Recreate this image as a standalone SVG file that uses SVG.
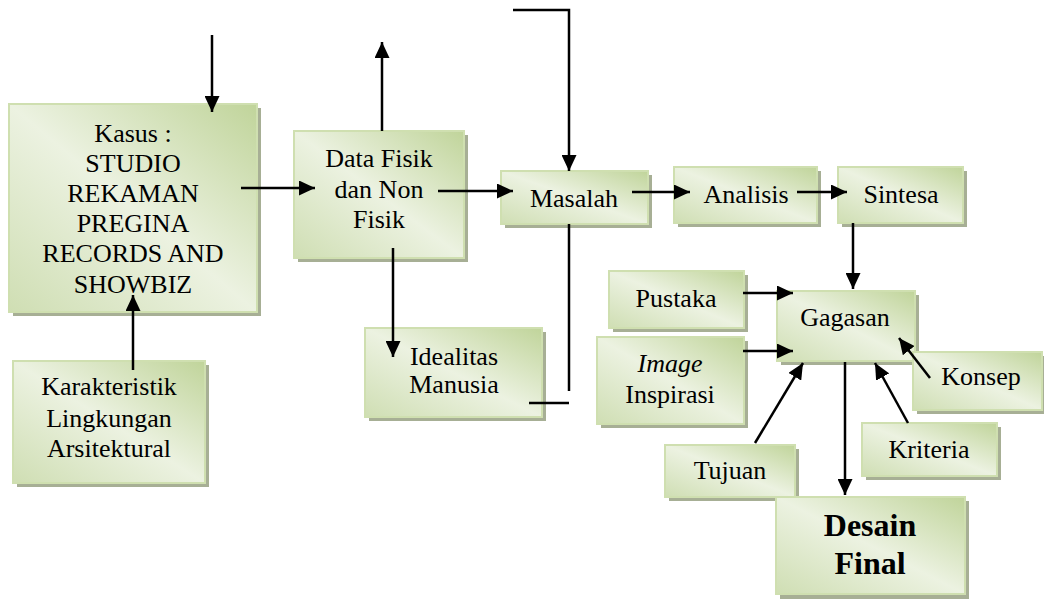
<svg xmlns="http://www.w3.org/2000/svg" width="1044" height="599" viewBox="0 0 1044 599">
<style>
.sh{fill:#a7af95}
.bx{fill:url(#g);stroke:#cfdfb0;stroke-width:2}
.t{font-family:"Liberation Serif","Times New Roman",serif;font-size:26px;fill:#000;text-anchor:middle}
.b{font-weight:bold;font-size:32px}
.c{stroke:#000;stroke-width:2.5;fill:none}
.a{marker-end:url(#ah)}
</style>
<defs>
<linearGradient id="g" x1="1" y1="0" x2="0" y2="1">
<stop offset="0" stop-color="#c0d49a"/>
<stop offset="0.5" stop-color="#ecf2e1"/>
<stop offset="1" stop-color="#cfdeb3"/>
</linearGradient>
<marker id="ah" markerUnits="userSpaceOnUse" markerWidth="17" markerHeight="15" refX="16" refY="7.5" orient="auto">
<path d="M0,0 L16,7.5 L0,15 z" fill="#000"/>
</marker>
</defs>

<g id="kasus">
<rect class="sh" x="13" y="108" width="248" height="208"/>
<rect class="bx" x="9" y="104" width="248" height="208"/>
<text class="t" x="133" y="142">Kasus :</text>
<text class="t" x="133" y="172">STUDIO</text>
<text class="t" x="133" y="202">REKAMAN</text>
<text class="t" x="133" y="232">PREGINA</text>
<text class="t" x="133" y="262">RECORDS AND</text>
<text class="t" x="133" y="293">SHOWBIZ</text>
</g>

<g id="karakteristik">
<rect class="sh" x="17" y="365" width="192" height="122"/>
<rect class="bx" x="13" y="361" width="192" height="122"/>
<text class="t" x="109" y="395">Karakteristik</text>
<text class="t" x="109" y="427">Lingkungan</text>
<text class="t" x="109" y="457">Arsitektural</text>
</g>

<g id="data">
<rect class="sh" x="298" y="135" width="170" height="127"/>
<rect class="bx" x="294" y="131" width="170" height="127"/>
<text class="t" x="379" y="167">Data Fisik</text>
<text class="t" x="379" y="198">dan Non</text>
<text class="t" x="379" y="228">Fisik</text>
</g>

<g id="idealitas">
<rect class="sh" x="369" y="332" width="177" height="89"/>
<rect class="bx" x="365" y="328" width="177" height="89"/>
<text class="t" x="454" y="365">Idealitas</text>
<text class="t" x="454" y="393">Manusia</text>
</g>

<g id="masalah">
<rect class="sh" x="505" y="175" width="147" height="53"/>
<rect class="bx" x="501" y="171" width="147" height="53"/>
<text class="t" x="574" y="207">Masalah</text>
</g>

<g id="analisis">
<rect class="sh" x="678" y="171" width="143" height="56"/>
<rect class="bx" x="674" y="167" width="143" height="56"/>
<text class="t" x="746" y="203">Analisis</text>
</g>

<g id="sintesa">
<rect class="sh" x="842" y="171" width="125" height="56"/>
<rect class="bx" x="838" y="167" width="125" height="56"/>
<text class="t" x="901" y="203">Sintesa</text>
</g>

<g id="pustaka">
<rect class="sh" x="613" y="275" width="135" height="57"/>
<rect class="bx" x="609" y="271" width="135" height="57"/>
<text class="t" x="676" y="307">Pustaka</text>
</g>

<g id="gagasan">
<rect class="sh" x="781" y="295" width="138" height="70"/>
<rect class="bx" x="777" y="291" width="138" height="70"/>
<text class="t" x="845" y="326">Gagasan</text>
</g>

<g id="image">
<rect class="sh" x="601" y="341" width="147" height="87"/>
<rect class="bx" x="597" y="337" width="147" height="87"/>
<text class="t" x="670" y="372" font-style="italic">Image</text>
<text class="t" x="670" y="403">Inspirasi</text>
</g>

<g id="konsep">
<rect class="sh" x="917" y="356" width="127" height="58"/>
<rect class="bx" x="913" y="352" width="129" height="58"/>
<text class="t" x="981" y="385">Konsep</text>
</g>

<g id="kriteria">
<rect class="sh" x="866" y="427" width="135" height="53"/>
<rect class="bx" x="862" y="423" width="135" height="53"/>
<text class="t" x="929" y="458">Kriteria</text>
</g>

<g id="tujuan">
<rect class="sh" x="669" y="449" width="130" height="52"/>
<rect class="bx" x="665" y="445" width="130" height="52"/>
<text class="t" x="730" y="479">Tujuan</text>
</g>

<g id="desain">
<rect class="sh" x="780" y="501" width="189" height="98"/>
<rect class="bx" x="776" y="497" width="189" height="97"/>
<text class="t b" x="870" y="536">Desain</text>
<text class="t b" x="870" y="574">Final</text>
</g>

<g id="connectors">
<line class="c a" x1="212" y1="35" x2="212" y2="112"/>
<line class="c a" x1="241" y1="188" x2="315" y2="188"/>
<line class="c a" x1="133" y1="370" x2="133" y2="295"/>
<line class="c a" x1="382" y1="131" x2="382" y2="42"/>
<line class="c a" x1="438" y1="191" x2="513" y2="191"/>
<line class="c a" x1="393" y1="248" x2="393" y2="357"/>
<polyline class="c a" points="513,10 569,10 569,171"/>
<line class="c" x1="569" y1="224" x2="569" y2="391"/>
<line class="c" x1="529" y1="403" x2="569" y2="403"/>
<line class="c a" x1="632" y1="192" x2="690" y2="192"/>
<line class="c a" x1="797" y1="192" x2="847" y2="192"/>
<line class="c a" x1="853" y1="223" x2="853" y2="289"/>
<line class="c a" x1="743" y1="293" x2="793" y2="293"/>
<line class="c a" x1="743" y1="351" x2="793" y2="351"/>
<line class="c a" x1="930" y1="378" x2="899" y2="338"/>
<line class="c a" x1="908" y1="423" x2="875" y2="363"/>
<line class="c a" x1="755" y1="443" x2="803" y2="363"/>
<line class="c a" x1="845" y1="362" x2="845" y2="495"/>
</g>
</svg>
